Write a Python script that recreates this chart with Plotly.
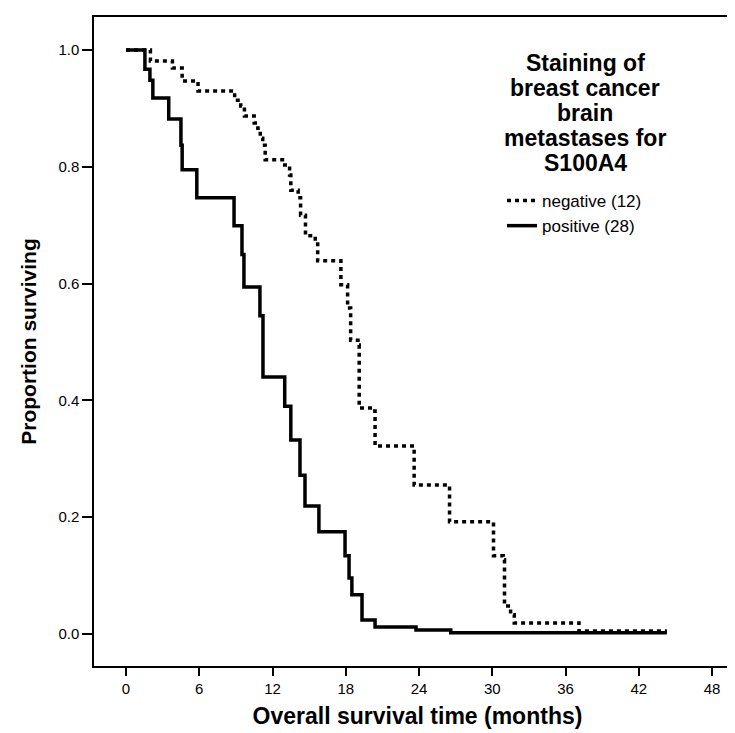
import plotly.graph_objects as go

# Kaplan-Meier step data
neg_time = [0, 2.0, 3.8, 4.6, 5.9, 8.9, 9.4, 9.7, 10.5, 10.8, 11.0, 11.2, 11.4, 13.0, 13.4, 13.5,
            14.1, 14.3, 14.7, 15.5, 15.7, 17.6, 18.15, 18.4, 19.0, 19.1, 20.2, 20.4, 23.6, 26.5,
            30.1, 30.9, 31.0, 31.5, 31.8, 37.1, 44.3]
neg_surv = [1.0, 0.981, 0.969, 0.947, 0.930, 0.914, 0.904, 0.887, 0.875, 0.866, 0.849, 0.837, 0.812,
            0.803, 0.786, 0.760, 0.747, 0.717, 0.682, 0.673, 0.639, 0.598, 0.558, 0.503, 0.495,
            0.387, 0.382, 0.322, 0.255, 0.192, 0.134, 0.127, 0.048, 0.033, 0.019, 0.005, 0.005]

pos_time = [0, 1.55, 1.96, 2.2, 3.5, 4.5, 4.6, 5.8, 8.85, 9.5, 9.66, 10.97, 11.22, 13.0, 13.5,
            14.25, 14.66, 15.8, 17.94, 18.27, 18.5, 19.33, 20.4, 23.75, 26.6, 44.3]
pos_surv = [1.0, 0.967, 0.948, 0.918, 0.882, 0.837, 0.795, 0.747, 0.699, 0.65, 0.594, 0.545, 0.44,
            0.39, 0.332, 0.272, 0.219, 0.175, 0.134, 0.096, 0.067, 0.024, 0.012, 0.007, 0.002, 0.002]

x_ticks = [0, 6, 12, 18, 24, 30, 36, 42, 48]
y_ticks = [0.0, 0.2, 0.4, 0.6, 0.8, 1.0]

legend_title_lines = ["Staining of", "breast cancer", "brain", "metastases for", "S100A4"]
neg_label = "negative (12)"
pos_label = "positive (28)"

FONT = "Liberation Sans, Arial, sans-serif"

W, H = 735, 733
L, R, T, B = 86, 2, 9, 75
PW, PH = W - L - R, H - T - B

fig = go.Figure()
fig.add_trace(go.Scatter(x=neg_time, y=neg_surv, mode="lines", line_shape="hv",
                         name=neg_label,
                         line=dict(color="black", width=3.5, dash="4px,4px")))
fig.add_trace(go.Scatter(x=pos_time, y=pos_surv, mode="lines", line_shape="hv",
                         name=pos_label,
                         line=dict(color="black", width=3.5)))

for i, line in enumerate(legend_title_lines):
    yc = 55 + 25 * i
    fig.add_annotation(text="<b>" + line + "</b>", xref="paper", yref="paper",
                       x=(577 - L) / PW, y=1 - (yc - T) / PH, xanchor="center", yanchor="middle",
                       showarrow=False, align="center",
                       font=dict(family=FONT, size=23, color="black"))

fig.update_layout(
    width=W, height=H,
    margin=dict(l=L, r=R, t=T, b=B, autoexpand=False),
    plot_bgcolor="white", paper_bgcolor="white",
    font=dict(family=FONT, color="black"),
    showlegend=True,
    legend=dict(x=(494 - L) / PW, y=1 - (175 - T) / PH, xanchor="left", yanchor="top",
                bgcolor="rgba(0,0,0,0)", font=dict(size=17, family=FONT, color="black"),
                tracegroupgap=0, itemwidth=30),
    xaxis=dict(range=[-2.62, 50.37], tickmode="array", tickvals=x_ticks,
               ticktext=[str(v) for v in x_ticks], automargin=False,
               showgrid=False, zeroline=False, showline=True, linecolor="black", linewidth=1.5,
               mirror=True, ticks="outside", ticklen=8, tickwidth=1.5, tickcolor="black",
               tickfont=dict(size=15, family=FONT),
               title=dict(text="<b>Overall survival time (months)</b>", standoff=12,
                          font=dict(size=23, family=FONT))),
    yaxis=dict(range=[-0.0548, 1.0565], tickmode="array", tickvals=y_ticks,
               ticktext=["%.1f" % v for v in y_ticks], automargin=False,
               showgrid=False, zeroline=False, showline=True, linecolor="black", linewidth=1.5,
               mirror=True, ticks="outside", ticklen=10, tickwidth=1.5, tickcolor="black",
               tickfont=dict(size=15, family=FONT),
               title=dict(text="<b>Proportion surviving</b>", standoff=16,
                          font=dict(size=21, family=FONT))),
)

fig.write_html("out.html")
